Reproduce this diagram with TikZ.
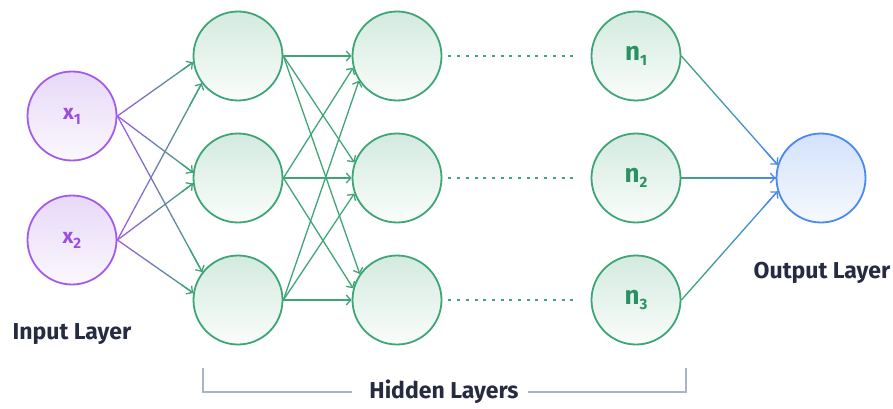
\documentclass[tikz,border=0pt]{standalone}
\usepackage{fontspec}
\setmainfont{Fira Sans}
\usetikzlibrary{arrows.meta,calc}

\definecolor{purpline}{HTML}{A35BEA}
\definecolor{purptext}{HTML}{9A4FE0}
\definecolor{purptop}{HTML}{E7D9F8}
\definecolor{purpbot}{HTML}{FBF8FE}
\definecolor{grnline}{HTML}{3EA577}
\definecolor{grntext}{HTML}{2A9160}
\definecolor{grntop}{HTML}{D3EADF}
\definecolor{grnbot}{HTML}{FAFDFB}
\definecolor{blueline}{HTML}{4A88F4}
\definecolor{bluetop}{HTML}{D3E2FB}
\definecolor{bluebot}{HTML}{F6F9FE}
\definecolor{labeltext}{HTML}{252B40}
\definecolor{bracketgray}{HTML}{A9B4C6}

% edge drawn as a colour ramp from #3 to #4, ending in an open arrow head
\newcommand\rampedge[4]{%
  \path (#1) coordinate (rs) (#2) coordinate (re);
  \foreach \k in {0,...,23}{%
    \pgfmathsetmacro\ka{\k/24}%
    \pgfmathsetmacro\kb{(\k+1)/24}%
    \pgfmathtruncatemacro\kp{100-\k*100/23}%
    \draw[edge,line cap=round,#3!\kp!#4] ($(rs)!\ka!(re)$) -- ($(rs)!\kb!(re)$);
  }
  \draw[edge,#4,-{Straight Barb[length=4.5pt,width=10pt]}] ($(rs)!0.85!(re)$) -- (re);
}
\newcommand\xlab[1]{{\fontsize{21}{22}\selectfont\bfseries x\raisebox{-5pt}{\fontsize{15}{15}\selectfont #1}}}
\newcommand\nlab[1]{{\fontsize{26}{28}\selectfont\bfseries n\raisebox{-5pt}{\fontsize{15}{15}\selectfont #1}}}

\begin{document}
\begin{tikzpicture}[x=1pt,y=-1pt,
  neuron/.style={circle,minimum size=89pt,inner sep=0pt,line width=1.8pt,shading angle=0},
  inneuron/.style={neuron,draw=purpline,top color=purptop,bottom color=purpbot,text=purptext},
  hidneuron/.style={neuron,draw=grnline,top color=grntop,bottom color=grnbot,text=grntext},
  outneuron/.style={neuron,draw=blueline,top color=bluetop,bottom color=bluebot},
  edge/.style={line width=1.3pt},
  hedge/.style={edge,grnline,-{Straight Barb[length=4.5pt,width=10pt]}},
  dotline/.style={grnline,line width=1.6pt,dash pattern=on 3pt off 5.7pt},
  bracket/.style={bracketgray,line width=1.5pt},
  layerlabel/.style={text=labeltext,font=\fontsize{23}{26}\selectfont\bfseries}]
\useasboundingbox (0,0) rectangle (893,409);

% input layer
\node[inneuron] (x1) at (72,116) {\xlab{1}};
\node[inneuron] (x2) at (72,240) {\xlab{2}};

% hidden layers
\node[hidneuron] (h1a) at (238,56) {};
\node[hidneuron] (h1b) at (238,178) {};
\node[hidneuron] (h1c) at (238,300) {};
\node[hidneuron] (h2a) at (397,56) {};
\node[hidneuron] (h2b) at (397,178) {};
\node[hidneuron] (h2c) at (397,300) {};
\node[hidneuron] (n1) at (636,56) {\nlab{1}};
\node[hidneuron] (n2) at (636,178) {\nlab{2}};
\node[hidneuron] (n3) at (636,300) {\nlab{3}};

% output layer
\node[outneuron] (out) at (821,178) {};

% input -> first hidden layer
\rampedge{x1.east}{h1a.188}{purpline}{grnline}
\rampedge{x1.east}{h1b.173}{purpline}{grnline}
\rampedge{x1.east}{h1c.142}{purpline}{grnline}
\rampedge{x2.east}{h1a.217}{purpline}{grnline}
\rampedge{x2.east}{h1b.187}{purpline}{grnline}
\rampedge{x2.east}{h1c.171}{purpline}{grnline}

% first -> second hidden layer
\draw[hedge] (h1a.east) -- (h2a.180);
\draw[hedge] (h1a.east) -- (h2b.160);
\draw[hedge] (h1a.east) -- (h2c.145);
\draw[hedge] (h1b.east) -- (h2a.195);
\draw[hedge] (h1b.east) -- (h2b.180);
\draw[hedge] (h1b.east) -- (h2c.165);
\draw[hedge] (h1c.east) -- (h2a.213);
\draw[hedge] (h1c.east) -- (h2b.200);
\draw[hedge] (h1c.east) -- (h2c.180);

% elided hidden layers
\draw[dotline] ($(h2a.east)+(6,0)$) -- ($(n1.west)+(-13,0)$);
\draw[dotline] ($(h2b.east)+(6,0)$) -- ($(n2.west)+(-13,0)$);
\draw[dotline] ($(h2c.east)+(6,0)$) -- ($(n3.west)+(-13,0)$);

% last hidden layer -> output
\rampedge{n1.east}{out.163}{grnline}{blueline}
\rampedge{n2.east}{out.180}{grnline}{blueline}
\rampedge{n3.east}{out.197}{grnline}{blueline}

% labels
\node[layerlabel] (inlab) at (72,334) {Input Layer};
\node[layerlabel] (outlab) at (822,273) {Output Layer};
\node[layerlabel] (hidlab) at (444,392) {Hidden Layers};
\draw[bracket] ($(hidlab.west)+(-14,0)$) -| (203,368);
\draw[bracket] ($(hidlab.east)+(6,0)$) -| (686,368);
\end{tikzpicture}
\end{document}
